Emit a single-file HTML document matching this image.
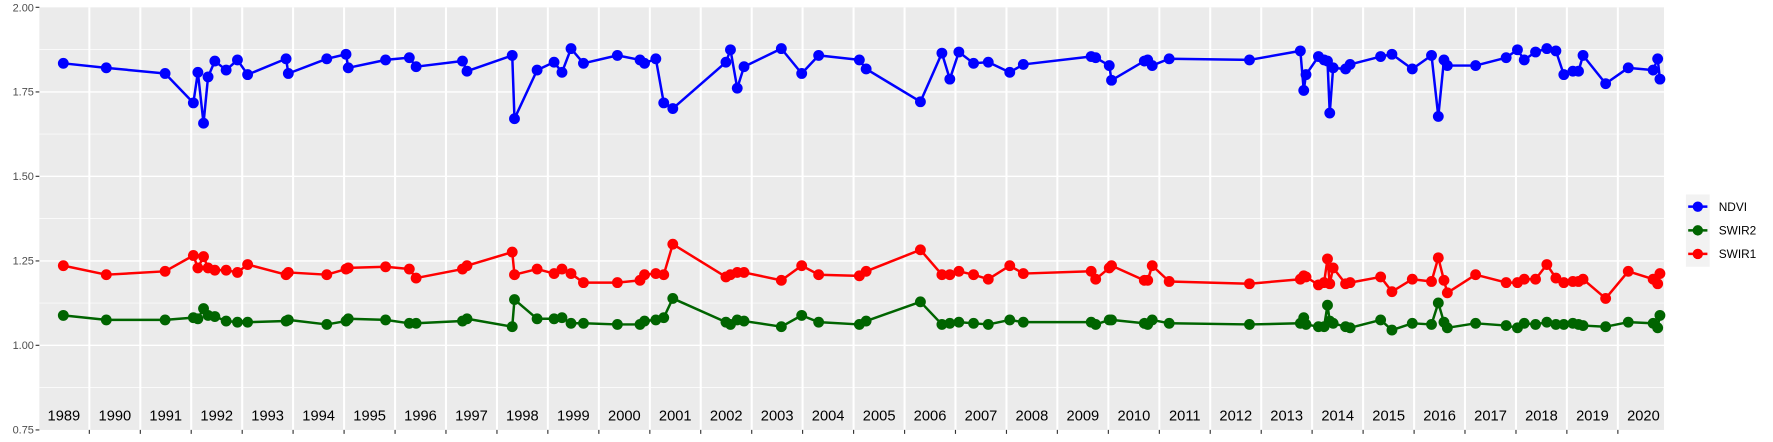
<!DOCTYPE html>
<html><head><meta charset="utf-8"><style>html,body{margin:0;padding:0;background:#fff}svg{display:block}</style></head>
<body>
<svg width="1773" height="442" viewBox="0 0 1568 391" preserveAspectRatio="none" xmlns="http://www.w3.org/2000/svg" font-family="Liberation Sans, sans-serif">
<defs>
<marker id="mb" markerUnits="userSpaceOnUse" markerWidth="12" markerHeight="12" refX="6" refY="6" viewBox="0 0 12 12"><circle cx="6" cy="6" r="4.8" fill="#0000ff"/></marker>
<marker id="mg" markerUnits="userSpaceOnUse" markerWidth="12" markerHeight="12" refX="6" refY="6" viewBox="0 0 12 12"><circle cx="6" cy="6" r="4.8" fill="#006400"/></marker>
<marker id="mr" markerUnits="userSpaceOnUse" markerWidth="12" markerHeight="12" refX="6" refY="6" viewBox="0 0 12 12"><circle cx="6" cy="6" r="4.8" fill="#ff0000"/></marker>
</defs>
<rect x="34.8" y="6.5" width="1436.8" height="373.8" fill="#ebebeb"/>
<g stroke="#fff" stroke-width="0.6">
<line x1="34.8" x2="1471.6" y1="43.9" y2="43.9"/><line x1="34.8" x2="1471.6" y1="118.6" y2="118.6"/><line x1="34.8" x2="1471.6" y1="193.4" y2="193.4"/><line x1="34.8" x2="1471.6" y1="268.1" y2="268.1"/><line x1="34.8" x2="1471.6" y1="342.9" y2="342.9"/>
</g>
<g stroke="#fff" stroke-width="1.2">
<line x1="34.8" x2="1471.6" y1="81.3" y2="81.3"/><line x1="34.8" x2="1471.6" y1="156" y2="156"/><line x1="34.8" x2="1471.6" y1="230.8" y2="230.8"/><line x1="34.8" x2="1471.6" y1="305.5" y2="305.5"/>
</g>
<path stroke="#fff" stroke-width="1.8" fill="none" d="M79 6.5V380.3M124.1 6.5V380.3M169.1 6.5V380.3M214.2 6.5V380.3M259.2 6.5V380.3M304.3 6.5V380.3M349.4 6.5V380.3M394.4 6.5V380.3M439.5 6.5V380.3M484.5 6.5V380.3M529.6 6.5V380.3M574.7 6.5V380.3M619.7 6.5V380.3M664.8 6.5V380.3M709.8 6.5V380.3M754.9 6.5V380.3M800 6.5V380.3M845 6.5V380.3M890.1 6.5V380.3M935.1 6.5V380.3M980.2 6.5V380.3M1025.3 6.5V380.3M1070.3 6.5V380.3M1115.4 6.5V380.3M1160.4 6.5V380.3M1205.5 6.5V380.3M1250.6 6.5V380.3M1295.6 6.5V380.3M1340.7 6.5V380.3M1385.7 6.5V380.3M1430.8 6.5V380.3"/>
<path stroke="#333" stroke-width="1" fill="none" d="M79 380.3v3.5M124.1 380.3v3.5M169.1 380.3v3.5M214.2 380.3v3.5M259.2 380.3v3.5M304.3 380.3v3.5M349.4 380.3v3.5M394.4 380.3v3.5M439.5 380.3v3.5M484.5 380.3v3.5M529.6 380.3v3.5M574.7 380.3v3.5M619.7 380.3v3.5M664.8 380.3v3.5M709.8 380.3v3.5M754.9 380.3v3.5M800 380.3v3.5M845 380.3v3.5M890.1 380.3v3.5M935.1 380.3v3.5M980.2 380.3v3.5M1025.3 380.3v3.5M1070.3 380.3v3.5M1115.4 380.3v3.5M1160.4 380.3v3.5M1205.5 380.3v3.5M1250.6 380.3v3.5M1295.6 380.3v3.5M1340.7 380.3v3.5M1385.7 380.3v3.5M1430.8 380.3v3.5M31.5 6.5h3.3M31.5 81.3h3.3M31.5 156h3.3M31.5 230.8h3.3M31.5 305.5h3.3M31.5 380.3h3.3"/>
<g font-size="13" fill="#000" text-anchor="middle">
<text x="56.5" y="372">1989</text><text x="101.6" y="372">1990</text><text x="146.6" y="372">1991</text><text x="191.7" y="372">1992</text><text x="236.7" y="372">1993</text><text x="281.8" y="372">1994</text><text x="326.9" y="372">1995</text><text x="371.9" y="372">1996</text><text x="417" y="372">1997</text><text x="462" y="372">1998</text><text x="507.1" y="372">1999</text><text x="552.2" y="372">2000</text><text x="597.2" y="372">2001</text><text x="642.3" y="372">2002</text><text x="687.3" y="372">2003</text><text x="732.4" y="372">2004</text><text x="777.5" y="372">2005</text><text x="822.5" y="372">2006</text><text x="867.6" y="372">2007</text><text x="912.6" y="372">2008</text><text x="957.7" y="372">2009</text><text x="1002.8" y="372">2010</text><text x="1047.8" y="372">2011</text><text x="1092.9" y="372">2012</text><text x="1137.9" y="372">2013</text><text x="1183" y="372">2014</text><text x="1228.1" y="372">2015</text><text x="1273.1" y="372">2016</text><text x="1318.2" y="372">2017</text><text x="1363.2" y="372">2018</text><text x="1408.3" y="372">2019</text><text x="1453.4" y="372">2020</text>
</g>
<g font-size="9.7" fill="#4d4d4d" text-anchor="end">
<text x="30" y="10">2.00</text><text x="30" y="84.7">1.75</text><text x="30" y="159.4">1.50</text><text x="30" y="234.2">1.25</text><text x="30" y="308.9">1.00</text><text x="30" y="383.7">0.75</text>
</g>
<g fill="none" stroke-width="2.2" stroke-linejoin="round">
<polyline stroke="#0000ff" marker-start="url(#mb)" marker-mid="url(#mb)" marker-end="url(#mb)" points="56,56 94,60 146,65 171,91 175,64 180,109 184,68 190,54 200,62 210,53 219,66 253,52 255,65 289,52 306,48 308,60 341,53 362,51 368,59 409,54 413,63 453,49 455,105 475,62 490,55 497,64 505,43 516,56 546,49 566,53 570,56 580,52 587,91 595,96 642,55 646,44 652,78 658,59 691,43 709,65 724,49 760,53 766,61 814,90 833,47 840,70 848,46 861,56 874,55 893,64 905,57 965,50 969,51 981,58 983,71 1012,54 1015,53 1019,58 1034,52 1105,53 1150,45 1153,80 1155,66 1166,50 1171,53 1174,54 1176,100 1179,60 1190,61 1194,57 1221,50 1231,48 1249,61 1266,49 1272,103 1277,53 1280,58 1305,58 1332,51 1342,44 1348,53 1358,46 1368,43 1376,45 1383,66 1391,63 1396,63 1400,49 1420,74 1440,60 1462,62 1466,52 1468,70"/>
<polyline stroke="#006400" marker-start="url(#mg)" marker-mid="url(#mg)" marker-end="url(#mg)" points="56,279 94,283 146,283 171,281 175,282 180,273 184,279 190,280 200,284 210,285 219,285 253,284 255,283 289,287 306,284 308,282 341,283 362,286 368,286 409,284 413,282 453,289 455,265 475,282 490,282 497,281 505,286 516,286 546,287 566,287 570,284 580,283 587,281 595,264 642,285 646,287 652,283 658,284 691,289 709,279 724,285 760,287 766,284 814,267 833,287 840,286 848,285 861,286 874,287 893,283 905,285 965,285 969,287 981,283 983,283 1012,286 1015,287 1019,283 1034,286 1105,287 1150,286 1153,281 1155,287 1166,289 1171,289 1174,270 1176,284 1179,286 1190,289 1194,290 1221,283 1231,292 1249,286 1266,287 1272,268 1277,285 1280,290 1305,286 1332,288 1342,290 1348,286 1358,287 1368,285 1376,287 1383,287 1391,286 1396,287 1400,288 1420,289 1440,285 1462,286 1466,290 1468,279"/>
<polyline stroke="#ff0000" marker-start="url(#mr)" marker-mid="url(#mr)" marker-end="url(#mr)" points="56,235 94,243 146,240 171,226 175,237 180,227 184,237 190,239 200,239 210,241 219,234 253,243 255,241 289,243 306,238 308,237 341,236 362,238 368,246 409,238 413,235 453,223 455,243 475,238 490,242 497,238 505,242 516,250 546,250 566,248 570,243 580,242 587,243 595,216 642,245 646,243 652,241 658,241 691,248 709,235 724,243 760,244 766,240 814,221 833,243 840,243 848,240 861,243 874,247 893,235 905,242 965,240 969,247 981,237 983,235 1012,248 1015,248 1019,235 1034,249 1105,251 1150,247 1153,244 1155,245 1166,252 1171,250 1174,229 1176,251 1179,237 1190,251 1194,250 1221,245 1231,258 1249,247 1266,249 1272,228 1277,248 1280,259 1305,243 1332,250 1342,250 1348,247 1358,247 1368,234 1376,246 1383,250 1391,249 1396,249 1400,247 1420,264 1440,240 1462,247 1466,251 1468,242"/>
</g>
<rect x="1491" y="172" width="21" height="64" fill="#f2f2f2"/>
<g stroke-width="2.2">
<line x1="1493" x2="1510" y1="182.8" y2="182.8" stroke="#0000ff"/><circle cx="1501.5" cy="182.8" r="4.6" fill="#0000ff"/>
<line x1="1493" x2="1510" y1="203.8" y2="203.8" stroke="#006400"/><circle cx="1501.5" cy="203.8" r="4.6" fill="#006400"/>
<line x1="1493" x2="1510" y1="224.6" y2="224.6" stroke="#ff0000"/><circle cx="1501.5" cy="224.6" r="4.6" fill="#ff0000"/>
</g>
<g font-size="10.5" fill="#000"><text x="1520" y="186.5">NDVI</text><text x="1520" y="207.5">SWIR2</text><text x="1520" y="228.3">SWIR1</text></g>
</svg>
</body></html>
